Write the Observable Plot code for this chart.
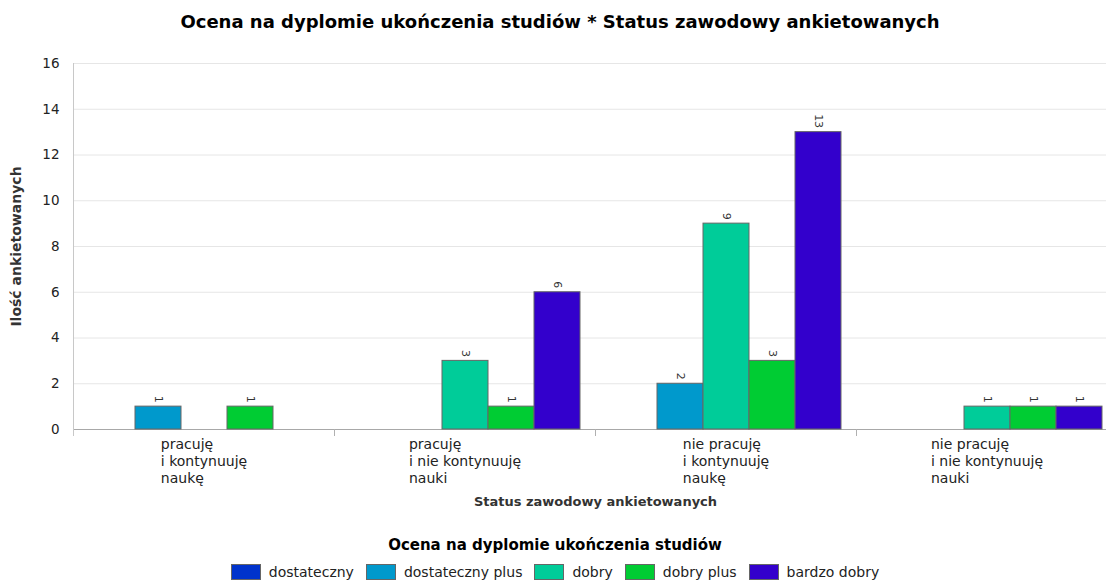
<!DOCTYPE html>
<html>
<head>
<meta charset="utf-8">
<script src="https://cdn.jsdelivr.net/npm/d3@7"></script>
<script src="https://cdn.jsdelivr.net/npm/@observablehq/plot@0.6"></script>
<style>
html, body { margin: 0; padding: 0; background: #fff; overflow: hidden; }
#wrap { width: 1120px; height: 580px; overflow: hidden; position: relative; }
#title { font: bold 18px "DejaVu Sans", sans-serif; height: 44px; line-height: 44px; text-align: center; color: #000; white-space: nowrap; }
#chart { height: 470px; width: 1120px; overflow: hidden; }
#chart svg { max-width: none !important; font-family: "DejaVu Sans", sans-serif; }
#chart g[aria-label="y-axis label"], #chart g[aria-label="fx-axis label"] { font-family: "DejaVu Sans", sans-serif; font-weight: bold; fill: #333; }
#ltitle { font: bold 15px "DejaVu Sans", sans-serif; width: 1110px; margin-top: 22px; height: 18px; line-height: 18px; text-align: center; color: #000; white-space: nowrap; }
#legend { font: 14px "DejaVu Sans", sans-serif; width: 1110px; margin-top: 10px; height: 16px; line-height: 16px; display: flex; justify-content: center; align-items: center; color: #222; }
.item { display: flex; align-items: center; margin: 0 6px; }
.sw { width: 30px; height: 16px; border: 1px solid #666; box-sizing: border-box; margin-right: 8px; }
</style>
</head>
<body>
<div id="wrap">
  <div id="title">Ocena na dyplomie ukończenia studiów * Status zawodowy ankietowanych</div>
  <div id="chart"></div>
  <div id="ltitle">Ocena na dyplomie ukończenia studiów</div>
  <div id="legend"></div>
</div>
<script>
const categories = [
  "pracuję\ni kontynuuję\nnaukę",
  "pracuję\ni nie kontynuuję\nnauki",
  "nie pracuję\ni kontynuuję\nnaukę",
  "nie pracuję\ni nie kontynuuję\nnauki"
];
const grades = ["dostateczny", "dostateczny plus", "dobry", "dobry plus", "bardzo dobry"];
const gradeColors = ["#0033cc", "#0099cc", "#00cc99", "#00cc33", "#3300cc"];
const countsDostateczny = [0, 0, 0, 0];
const countsDostatecznyPlus = [1, 0, 2, 0];
const countsDobry = [0, 3, 9, 1];
const countsDobryPlus = [1, 1, 3, 1];
const countsBardzoDobry = [0, 6, 13, 1];
const yTicks = [0, 2, 4, 6, 8, 10, 12, 14, 16];

const seriesCounts = [countsDostateczny, countsDostatecznyPlus, countsDobry, countsDobryPlus, countsBardzoDobry];
const data = [];
grades.forEach((g, gi) => categories.forEach((c, ci) => {
  const v = seriesCounts[gi][ci];
  if (v > 0) data.push({category: c, grade: g, value: v});
}));

const chart = Plot.plot({
  width: 1120,
  height: 470,
  marginTop: 19,
  marginLeft: 72,
  marginRight: 2,
  marginBottom: 85,
  fx: {domain: categories, padding: 0, axis: null},
  x: {domain: grades, paddingInner: 0, paddingOuter: 0.28, axis: null},
  y: {domain: [0, 16], axis: null},
  color: {domain: grades, range: gradeColors},
  marks: [
    Plot.gridY(yTicks, {stroke: "#e6e6e6", strokeOpacity: 1}),
    Plot.ruleY([0], {stroke: "#a8a8a8"}),
    Plot.barY(data, {fx: "category", x: "grade", y: "value", fill: "grade", stroke: "#666", strokeWidth: 1}),
    Plot.text(data, {fx: "category", x: "grade", y: "value", text: d => String(d.value), rotate: 90, textAnchor: "end", dy: -4, fontSize: 11, fill: "#333"}),
    Plot.axisY(yTicks, {anchor: "left", tickSize: 0, tickPadding: 14, fontSize: 13.5, fill: "#222",
      label: "Ilość ankietowanych", labelAnchor: "center", labelOffset: 62, labelArrow: "none"}),
    Plot.axisFx({anchor: "bottom", tickSize: 0, tickPadding: 8, fontSize: 14, lineHeight: 1.2, fill: "#222",
      label: "Status zawodowy ankietowanych", labelAnchor: "center", labelOffset: 76, labelArrow: "none"})
  ]
});
document.getElementById("chart").appendChild(chart);

// left-align each multi-line category label as a block centred under its group
chart.querySelectorAll('g[aria-label="fx-axis tick label"] text').forEach(t => {
  const spans = t.querySelectorAll("tspan");
  if (!spans.length) return;
  let w = 0;
  spans.forEach(s => { w = Math.max(w, s.getComputedTextLength()); });
  t.setAttribute("text-anchor", "start");
  spans.forEach(s => s.setAttribute("x", -w / 2));
});
chart.querySelectorAll('g[aria-label="y-axis label"] text').forEach(t => t.setAttribute("font-size", 14));
chart.querySelectorAll('g[aria-label="fx-axis label"] text').forEach(t => t.setAttribute("font-size", 13));

// left axis line and category boundary ticks, placed with Plot's own scales
const fxScale = chart.scale("fx");
const yScale = chart.scale("y");
const y0 = yScale.apply(0);
const yTop = yScale.apply(16);
const left = fxScale.apply(categories[0]);
const frame = d3.select(chart).append("g").attr("aria-label", "frame lines");
frame.append("line").attr("x1", left + 0.5).attr("x2", left + 0.5)
  .attr("y1", yTop).attr("y2", y0 + 7).attr("stroke", "#c8c8c8");
categories.slice(1).forEach(c => {
  const x = Math.round(fxScale.apply(c)) + 0.5;
  frame.append("line").attr("x1", x).attr("x2", x).attr("y1", y0).attr("y2", y0 + 7).attr("stroke", "#b0b0b0");
});

const legend = document.getElementById("legend");
grades.forEach((g, i) => {
  const item = document.createElement("div");
  item.className = "item";
  const sw = document.createElement("div");
  sw.className = "sw";
  sw.style.background = gradeColors[i];
  const lab = document.createElement("span");
  lab.textContent = g;
  item.appendChild(sw);
  item.appendChild(lab);
  legend.appendChild(item);
});
</script>
</body>
</html>
